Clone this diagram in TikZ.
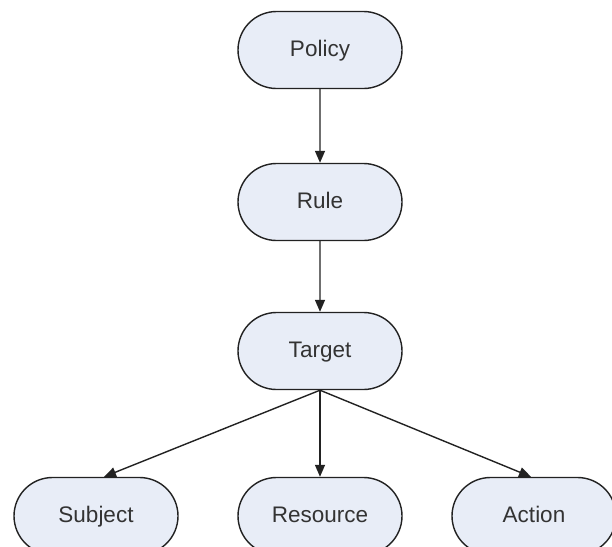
\documentclass[tikz,border=0pt]{standalone}
\usepackage{fontspec}
\setmainfont{Liberation Sans}
\usetikzlibrary{shapes.misc,arrows.meta}
\definecolor{boxfill}{HTML}{E8EDF7}
\definecolor{boxtext}{HTML}{333333}
\definecolor{boxline}{HTML}{222222}
\tikzset{
  term/.style={rounded rectangle, draw=boxline, line width=1.4pt, fill=boxfill,
    minimum width=164pt, minimum height=77pt, inner sep=0pt,
    text height=16pt, text depth=4pt,
    font=\fontsize{22.5}{25}\selectfont, text=boxtext},
  link/.style={draw=boxline, line width=1.4pt,
    -{Triangle[length=12pt,width=10pt]}}
}
\begin{document}
\begin{tikzpicture}[x=1pt,y=1pt]
  \clip (0,0) rectangle (612,-546);
  \fill[white] (0,0) rectangle (612,-546);
  \node[term] (policy)   at (320,-50)  {Policy};
  \node[term] (rule)     at (320,-202) {Rule};
  \node[term] (target)   at (320,-351) {Target};
  \node[term] (subject)  at (96,-516)  {Subject};
  \node[term] (resource) at (320,-516) {Resource};
  \node[term] (action)   at (534,-516) {Action};
  \draw[link] (policy) -- (rule);
  \draw[link] (rule) -- (target);
  \draw[link] (target.south) -- ([xshift=8pt]subject.north);
  \draw[link] (target.south) -- (resource.north);
  \draw[link] (target.south) -- ([xshift=-3pt]action.north);
\end{tikzpicture}
\end{document}
